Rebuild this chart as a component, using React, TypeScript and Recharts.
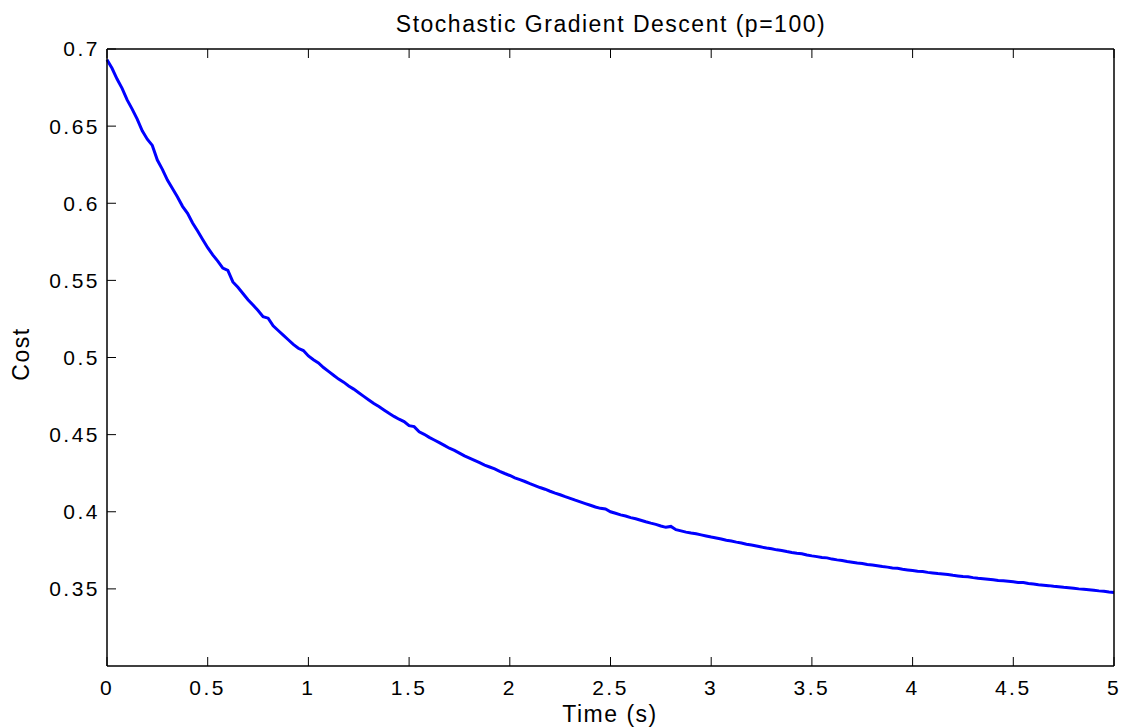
import { LineChart, Line, XAxis, YAxis } from "recharts";

const sampleStep = 0.025;
const cost = [
  0.693, 0.6875, 0.6805, 0.6745,
  0.667, 0.661, 0.6545, 0.647,
  0.6415, 0.6375, 0.628, 0.622,
  0.615, 0.6095, 0.604, 0.598,
  0.5935, 0.5872, 0.582, 0.5765,
  0.5712, 0.5665, 0.5625, 0.558,
  0.5565, 0.549, 0.5455, 0.5415,
  0.5375, 0.534, 0.5305, 0.5265,
  0.5255, 0.5205, 0.5175, 0.5145,
  0.5115, 0.5085, 0.506, 0.5045,
  0.501, 0.4985, 0.4965, 0.4935,
  0.491, 0.4885, 0.486, 0.484,
  0.4815, 0.4795, 0.4772, 0.4748,
  0.4725, 0.4702, 0.4682, 0.466,
  0.4638, 0.4618, 0.46, 0.4585,
  0.4558, 0.4552, 0.4518, 0.4502,
  0.4482, 0.4465, 0.4448, 0.443,
  0.4412, 0.4398, 0.438, 0.4362,
  0.4348, 0.4333, 0.4318, 0.4302,
  0.429, 0.4278, 0.4262, 0.4248,
  0.4235, 0.422, 0.4208, 0.4196,
  0.4182, 0.417, 0.4157, 0.4146,
  0.4133, 0.4121, 0.411, 0.4098,
  0.4087, 0.4075, 0.4064, 0.4053,
  0.4042, 0.4031, 0.4022, 0.4018,
  0.4, 0.399, 0.398, 0.3972,
  0.3962, 0.3955, 0.3945, 0.3935,
  0.3926, 0.3918, 0.3908, 0.3899,
  0.3905, 0.3884, 0.3876, 0.3868,
  0.3862, 0.3857, 0.385, 0.3843,
  0.3836, 0.383, 0.3823, 0.3815,
  0.381, 0.3803, 0.3797, 0.3789,
  0.3784, 0.3778, 0.3771, 0.3765,
  0.376, 0.3753, 0.3749, 0.3742,
  0.3736, 0.3731, 0.3728, 0.372,
  0.3714, 0.3709, 0.3704, 0.3701,
  0.3693, 0.3688, 0.3684, 0.3678,
  0.3673, 0.3668, 0.3665, 0.3658,
  0.3655, 0.365, 0.3645, 0.3641,
  0.3636, 0.3633, 0.3627, 0.3623,
  0.3619, 0.3615, 0.3612, 0.3607,
  0.3603, 0.3599, 0.3596, 0.3593,
  0.3588, 0.3584, 0.358, 0.3578,
  0.3573, 0.3569, 0.3566, 0.3563,
  0.3559, 0.3555, 0.3552, 0.3549,
  0.3546, 0.3541, 0.3541, 0.3535,
  0.3531, 0.3527, 0.3524, 0.3521,
  0.3517, 0.3514, 0.351, 0.3507,
  0.3504, 0.35, 0.3497, 0.3494,
  0.3491, 0.3487, 0.3485, 0.348,
  0.3477,
];

const xTicks = [0, 0.5, 1, 1.5, 2, 2.5, 3, 3.5, 4, 4.5, 5];
const yTicks = [0.35, 0.4, 0.45, 0.5, 0.55, 0.6, 0.65, 0.7];

const data = cost.map((c, i) => ({ t: Number((i * sampleStep).toFixed(3)), cost: c }));

// plot box (matches the chart margins below)
const W = 1122;
const H = 727;
const PLOT_LEFT = 107;
const PLOT_RIGHT = 1114;
const PLOT_TOP = 49;
const PLOT_BOTTOM = 666;
const TICK_LEN = 9;

const font = "'Liberation Sans', Arial, Helvetica, sans-serif";
const axisLine = { stroke: "#000", strokeWidth: 1.5 };
const tickText = { fontSize: 21, fill: "#000", fontFamily: font, letterSpacing: 2.5 };

const BottomTick = (props: any) => {
  const { x, y, payload } = props;
  const cx = payload.coordinate;
  return (
    <g>
      <line x1={cx} x2={cx} y1={PLOT_BOTTOM} y2={PLOT_BOTTOM - TICK_LEN} stroke="#000" />
      <text x={x} y={y} dy="0.71em" textAnchor="middle" {...tickText}>
        {String(payload.value)}
      </text>
    </g>
  );
};

const LeftTick = (props: any) => {
  const { x, y, payload } = props;
  const cy = payload.coordinate;
  return (
    <g>
      <line x1={PLOT_LEFT} x2={PLOT_LEFT + TICK_LEN} y1={cy} y2={cy} stroke="#000" />
      <text x={x} y={y} dy="0.355em" textAnchor="end" {...tickText}>
        {String(payload.value)}
      </text>
    </g>
  );
};

const TopTick = (props: any) => {
  const cx = props.payload.coordinate;
  return <line x1={cx} x2={cx} y1={PLOT_TOP} y2={PLOT_TOP + TICK_LEN} stroke="#000" />;
};

const RightTick = (props: any) => {
  const cy = props.payload.coordinate;
  return <line x1={PLOT_RIGHT} x2={PLOT_RIGHT - TICK_LEN} y1={cy} y2={cy} stroke="#000" />;
};

const labelStyle: React.CSSProperties = {
  position: "absolute",
  fontFamily: font,
  fontSize: 23,
  letterSpacing: 1.5,
  lineHeight: "23px",
  whiteSpace: "nowrap",
  color: "#000",
};

export default function App() {
  return (
    <div style={{ position: "absolute", left: 0, top: 0, width: W, height: H, background: "#fff" }}>
      <LineChart
        width={W}
        height={H}
        data={data}
        margin={{
          top: PLOT_TOP - 1,
          right: W - PLOT_RIGHT - 1,
          left: PLOT_LEFT - 60,
          bottom: H - PLOT_BOTTOM - 30,
        }}
      >
        <XAxis
          xAxisId="bottom"
          dataKey="t"
          type="number"
          domain={[0, 5]}
          ticks={xTicks}
          height={30}
          tickSize={0}
          tickMargin={14}
          tick={BottomTick}
          tickLine={false}
          axisLine={axisLine}
        />
        <XAxis
          xAxisId="top"
          orientation="top"
          dataKey="t"
          type="number"
          domain={[0, 5]}
          ticks={xTicks}
          height={1}
          tickSize={0}
          tick={TopTick}
          tickLine={false}
          axisLine={axisLine}
        />
        <YAxis
          yAxisId="left"
          type="number"
          domain={[0.3, 0.7]}
          ticks={yTicks}
          width={60}
          tickSize={0}
          tickMargin={7}
          tick={LeftTick}
          tickLine={false}
          axisLine={axisLine}
        />
        <YAxis
          yAxisId="right"
          orientation="right"
          type="number"
          domain={[0.3, 0.7]}
          ticks={yTicks}
          width={1}
          tickSize={0}
          tick={RightTick}
          tickLine={false}
          axisLine={axisLine}
        />
        <Line
          xAxisId="bottom"
          yAxisId="left"
          type="linear"
          dataKey="cost"
          stroke="#0000ff"
          strokeWidth={3}
          dot={false}
          isAnimationActive={false}
        />
      </LineChart>
      <div style={{ ...labelStyle, left: 0, width: 1222, top: 13, textAlign: "center" }}>
        Stochastic Gradient Descent (p=100)
      </div>
      <div style={{ ...labelStyle, left: 0, width: 1220, top: 703, textAlign: "center" }}>
        Time (s)
      </div>
      <div
        style={{
          ...labelStyle,
          left: 21,
          top: 354,
          transform: "translate(-50%, -50%) rotate(-90deg)",
        }}
      >
        Cost
      </div>
    </div>
  );
}
